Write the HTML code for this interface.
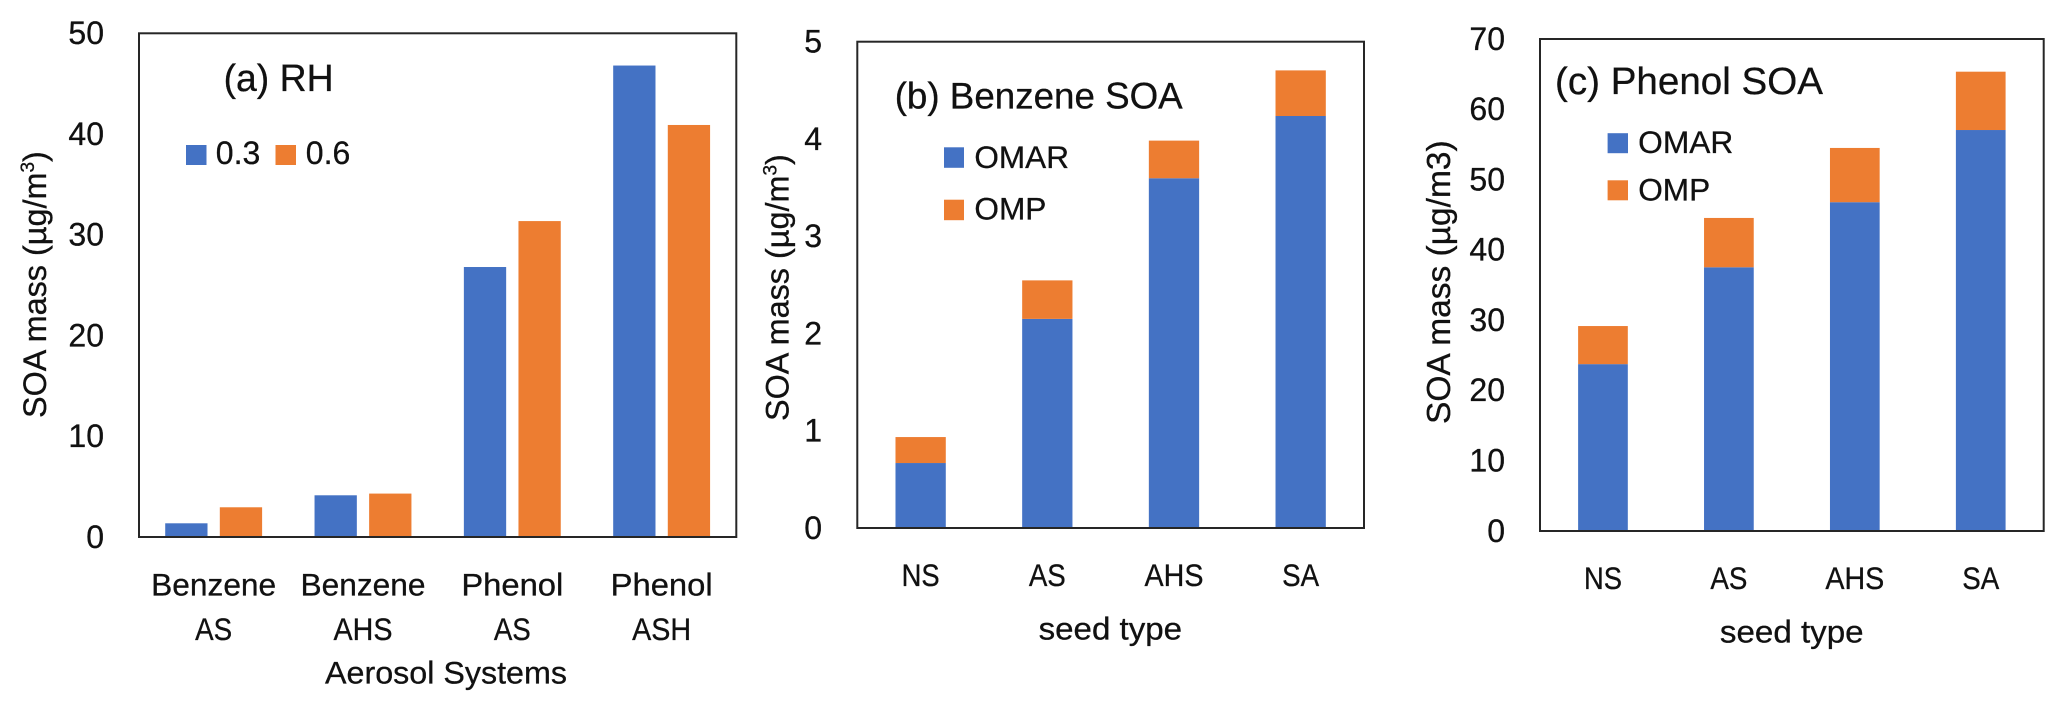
<!DOCTYPE html>
<html lang="en">
<head>
<meta charset="utf-8">
<title>SOA mass charts</title>
<style>
  html, body { margin: 0; padding: 0; background: #fff; }
  svg { display: block; }
  text { font-family: "Liberation Sans", Arial, sans-serif; fill: #111; stroke: #111; stroke-width: 0.3px; }
</style>
</head>
<body>
<svg id="figure" xmlns="http://www.w3.org/2000/svg" width="2067" height="703" viewBox="0 0 2067 703">
  <rect x="0" y="0" width="2067" height="703" fill="#fff"/>

  <g id="panel-a">
    <text x="223.6" y="91" font-size="38" textLength="110" lengthAdjust="spacingAndGlyphs">(a) RH</text>
    <rect x="186" y="145" width="20.5" height="20" fill="#4472C4"/>
    <text x="215.8" y="164" font-size="32" textLength="44.5" lengthAdjust="spacingAndGlyphs">0.3</text>
    <rect x="275.5" y="145" width="20.5" height="20" fill="#ED7D31"/>
    <text x="305.8" y="164" font-size="32" textLength="44.5" lengthAdjust="spacingAndGlyphs">0.6</text>
    <text transform="translate(46,418) rotate(-90)" font-size="32.4">SOA mass (µg/m<tspan font-size="19" dy="-12">3</tspan><tspan dy="12">)</tspan></text>
    <text x="325" y="683.5" font-size="31.5" textLength="242" lengthAdjust="spacingAndGlyphs">Aerosol Systems</text>
  </g>

  <g id="panel-b">
    <text x="894.7" y="108.4" font-size="37" textLength="288" lengthAdjust="spacingAndGlyphs">(b) Benzene SOA</text>
    <rect x="944" y="147.3" width="20" height="20.5" fill="#4472C4"/>
    <text x="974.4" y="168" font-size="31.5" textLength="94.6" lengthAdjust="spacingAndGlyphs">OMAR</text>
    <rect x="944" y="199.7" width="20" height="20.5" fill="#ED7D31"/>
    <text x="974.4" y="219.4" font-size="31.5" textLength="72" lengthAdjust="spacingAndGlyphs">OMP</text>
    <text transform="translate(788.5,421) rotate(-90)" font-size="32.4">SOA mass (µg/m<tspan font-size="19" dy="-12">3</tspan><tspan dy="12">)</tspan></text>
    <text x="1038.6" y="639.5" font-size="31.5" textLength="143.5" lengthAdjust="spacingAndGlyphs">seed type</text>
  </g>

  <g id="panel-c">
    <text x="1555" y="94.2" font-size="38" textLength="268" lengthAdjust="spacingAndGlyphs">(c) Phenol SOA</text>
    <rect x="1607.6" y="133.2" width="20.4" height="20" fill="#4472C4"/>
    <text x="1638.2" y="153" font-size="31.5" textLength="95" lengthAdjust="spacingAndGlyphs">OMAR</text>
    <rect x="1607.6" y="180.3" width="20.4" height="20" fill="#ED7D31"/>
    <text x="1638.2" y="200.4" font-size="31.5" textLength="72" lengthAdjust="spacingAndGlyphs">OMP</text>
    <text transform="translate(1449.8,424) rotate(-90)" font-size="33.5">SOA mass (µg/m3)</text>
    <text x="1719.9" y="642.6" font-size="31.5" textLength="143.7" lengthAdjust="spacingAndGlyphs">seed type</text>
  </g>
</svg>

<script>
// Panel (a): grouped bars
const categoriesA = [["Benzene", "AS"], ["Benzene", "AHS"], ["Phenol", "AS"], ["Phenol", "ASH"]];
const rh03Values = [1.36, 4.14, 26.8, 46.8];
const rh06Values = [2.95, 4.31, 31.36, 40.9];
const ticksA = [0, 10, 20, 30, 40, 50];

// Panel (b): stacked bars
const categoriesB = ["NS", "AS", "AHS", "SA"];
const omarValuesB = [0.668, 2.15, 3.596, 4.236];
const ompValuesB = [0.267, 0.396, 0.387, 0.469];
const ticksB = [0, 1, 2, 3, 4, 5];

// Panel (c): stacked bars
const categoriesC = ["NS", "AS", "AHS", "SA"];
const omarValuesC = [23.74, 37.52, 46.78, 57.05];
const ompValuesC = [5.42, 7.02, 7.72, 8.3];
const ticksC = [0, 10, 20, 30, 40, 50, 60, 70];

const BLUE = "#4472C4";
const ORANGE = "#ED7D31";
const SVG_NS = "http://www.w3.org/2000/svg";
const labelWidths = { Benzene: 125, Phenol: 102, AS: 37, AHS: 59, ASH: 59, NS: 38, SA: 37 };

function makeScales(frame, yMax, count) {
  return {
    y: function (v) { return frame.bottom - (v / yMax) * (frame.bottom - frame.top); },
    x: function (i) { return frame.left + (i + 0.5) * (frame.right - frame.left) / count; }
  };
}

function addBar(parent, name, x, width, y0, y1, fill) {
  const r = document.createElementNS(SVG_NS, "rect");
  
  
  r.setAttribute("x", x);
  r.setAttribute("width", width);
  r.setAttribute("y", Math.min(y0, y1));
  r.setAttribute("height", Math.abs(y1 - y0));
  r.setAttribute("fill", fill);
  parent.appendChild(r);
}

function addLabel(parent, name, content, x, y, anchor, size, width) {
  const t = document.createElementNS(SVG_NS, "text");
  
  
  t.setAttribute("x", x);
  t.setAttribute("y", y);
  t.setAttribute("text-anchor", anchor);
  t.setAttribute("font-size", size);
  if (width) {
    t.setAttribute("textLength", width);
    t.setAttribute("lengthAdjust", "spacingAndGlyphs");
  }
  t.textContent = content;
  parent.appendChild(t);
}

function addFrame(parent, name, frame) {
  const r = document.createElementNS(SVG_NS, "rect");
  
  
  r.setAttribute("x", frame.left);
  r.setAttribute("y", frame.top);
  r.setAttribute("width", frame.right - frame.left);
  r.setAttribute("height", frame.bottom - frame.top);
  r.setAttribute("fill", "none");
  r.setAttribute("stroke", "#262626");
  r.setAttribute("stroke-width", "2");
  parent.appendChild(r);
}

function addTicks(parent, prefix, ticks, scale, rightEdge) {
  ticks.forEach(function (v) {
    addLabel(parent, prefix + "-y-tick-" + v, String(v), rightEdge, scale.y(v) + 10.8, "end", 32);
  });
}

// Panel (a)
(function () {
  const g = document.getElementById("panel-a");
  const frame = { left: 139, right: 736.3, top: 33.3, bottom: 537 };
  const s = makeScales(frame, 50, categoriesA.length);
  const barW = 42.3;
  const offset = 27.3;
  categoriesA.forEach(function (cat, i) {
    const c = s.x(i);
    addBar(g, "bar-rh-0.3-" + i, c - offset - barW / 2, barW, s.y(0), s.y(rh03Values[i]), BLUE);
    addBar(g, "bar-rh-0.6-" + i, c + offset - barW / 2, barW, s.y(0), s.y(rh06Values[i]), ORANGE);
    addLabel(g, "x-label-a-" + i + "-line-1", cat[0], c, 595.7, "middle", 31.5, labelWidths[cat[0]]);
    addLabel(g, "x-label-a-" + i + "-line-2", cat[1], c, 640, "middle", 31.5, labelWidths[cat[1]]);
  });
  addTicks(g, "panel-a", ticksA, s, 104);
  addFrame(g, "panel-a-plot-frame", frame);
})();

// Panels (b) and (c)
function drawStacked(groupId, prefix, frame, yMax, cats, lower, upper, ticks, barW, tickEdge, labelY) {
  const g = document.getElementById(groupId);
  const s = makeScales(frame, yMax, cats.length);
  cats.forEach(function (cat, i) {
    const c = s.x(i);
    addBar(g, prefix + "-bar-omar-" + cat, c - barW / 2, barW, s.y(0), s.y(lower[i]), BLUE);
    addBar(g, prefix + "-bar-omp-" + cat, c - barW / 2, barW, s.y(lower[i]), s.y(lower[i] + upper[i]), ORANGE);
    addLabel(g, prefix + "-x-label-" + cat, cat, c, labelY, "middle", 31.5, labelWidths[cat]);
  });
  addTicks(g, prefix, ticks, s, tickEdge);
  addFrame(g, prefix + "-plot-frame", frame);
}

drawStacked("panel-b", "panel-b", { left: 857.3, right: 1364, top: 41.7, bottom: 528 }, 5,
  categoriesB, omarValuesB, ompValuesB, ticksB, 50.3, 822, 585.8);
drawStacked("panel-c", "panel-c", { left: 1540, right: 2043.7, top: 39, bottom: 531 }, 70,
  categoriesC, omarValuesC, ompValuesC, ticksC, 49.7, 1505, 589);
</script>
</body>
</html>
